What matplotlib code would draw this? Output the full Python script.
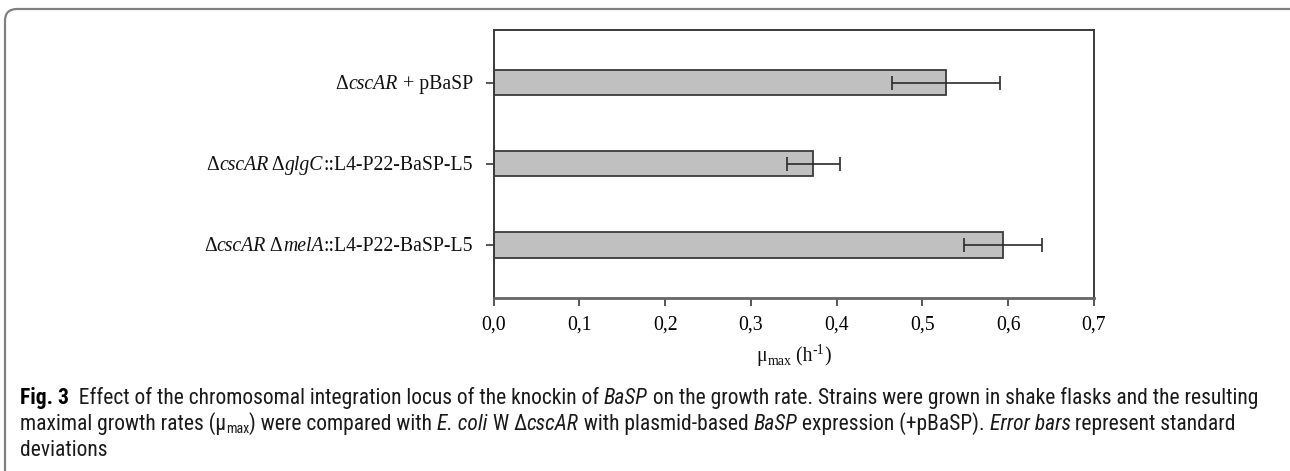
import matplotlib
matplotlib.use("Agg")
import matplotlib.pyplot as plt
from matplotlib.patches import FancyBboxPatch
from matplotlib.transforms import IdentityTransform
from matplotlib import font_manager

# ---------------- data ----------------
strains = ["cscAR + pBaSP", "cscAR glgC", "cscAR melA"]
mu_max = [0.527, 0.373, 0.594]
mu_sd = [0.063, 0.031, 0.045]
x_ticks = [0.0, 0.1, 0.2, 0.3, 0.4, 0.5, 0.6, 0.7]
x_ticklabels = ["0,0", "0,1", "0,2", "0,3", "0,4", "0,5", "0,6", "0,7"]

# label runs (text, italic?) for each strain
label_runs = [
    [("Δ", False), ("cscAR", True), (" + pBaSP", False)],
    [("Δ", False), ("cscAR", True), (" Δ", False), ("glgC", True), ("::L4-P22-BaSP-L5", False)],
    [("Δ", False), ("cscAR", True), (" Δ", False), ("melA", True), ("::L4-P22-BaSP-L5", False)],
]

W, H = 1290, 471
DPI = 100
fig = plt.figure(figsize=(W / DPI, H / DPI), dpi=DPI)
fig.patch.set_facecolor("white")

SERIF = ["Liberation Serif", "DejaVu Serif"]
avail = {f.name for f in font_manager.fontManager.ttflist}
cap_family = None
for cand in ["Liberation Sans Narrow", "Roboto Condensed", "Open Sans Condensed",
             "DejaVu Sans Condensed", "Noto Sans Condensed"]:
    if cand in avail:
        cap_family = cand
        break
CAP = [cap_family, "DejaVu Sans"] if cap_family else ["Liberation Sans", "DejaVu Sans"]

# ---------------- axes ----------------
ax_l, ax_r, ax_t, ax_b = 493.5, 1094, 30, 297.7
ax = fig.add_axes([ax_l / W, 1 - ax_b / H, (ax_r - ax_l) / W, (ax_b - ax_t) / H])

ypos = list(range(len(strains)))
ax.barh(ypos, mu_max, height=0.31, color="#c0c0c0", edgecolor="#3a3a3a",
        linewidth=1.3, zorder=2)
ax.errorbar(mu_max, ypos, xerr=mu_sd, fmt="none", ecolor="#2a2a2a",
            elinewidth=1.2, capsize=4.8, capthick=1.2, zorder=3)
ax.set_ylim(2.65, -0.65)
ax.set_xlim(0, 0.7)
ax.set_xticks(x_ticks)
ax.set_xticklabels(x_ticklabels, fontfamily=SERIF, fontsize=14.2)
ax.set_yticks(ypos)
ax.set_yticklabels([""] * len(ypos))
ax.tick_params(axis="x", direction="out", length=6, width=1.2, color="#3a3a3a", pad=7)
ax.tick_params(axis="y", direction="out", length=6, width=1.2, color="#3a3a3a")
for s in ax.spines.values():
    s.set_color("#3a3a3a")
    s.set_linewidth(1.4)
ax.spines["bottom"].set_color("#666666")
ax.spines["bottom"].set_linewidth(2)

fig.canvas.draw()
renderer = fig.canvas.get_renderer()


def text_width(s, **kw):
    t = fig.text(0, 0, "x" + s + "x", **kw)
    t2 = fig.text(0, 0, "xx", **kw)
    w = t.get_window_extent(renderer).width - t2.get_window_extent(renderer).width
    t.remove()
    t2.remove()
    return w


def runs_width(runs):
    return sum(text_width(s, **kw) for s, kw, dy in runs)


def place_runs(x, y_base, runs, ha="left"):
    """runs: list of (text, kwargs, dy_px). x, y_base in pixels from top-left."""
    widths = [text_width(s, **kw) for s, kw, dy in runs]
    total = sum(widths)
    if ha == "right":
        x = x - total
    elif ha == "center":
        x = x - total / 2
    cx = x
    for (s, kw, dy), w in zip(runs, widths):
        fig.text(cx / W, 1 - (y_base - dy) / H, s, va="baseline", ha="left", **kw)
        cx += w
    return total


# y tick labels
lab_kw = dict(fontfamily=SERIF, fontsize=14.2, color="#111111")
for yi, runs in zip(ypos, label_runs):
    ypix = ax.transData.transform((0, yi))[1]
    ytop = H - ypix
    rr = [(s, dict(lab_kw, fontstyle="italic" if it else "normal"), 0) for s, it in runs]
    place_runs(473, ytop + 6, rr, ha="right")

# x label: mu_max (h^-1)
place_runs((ax_l + ax_r) / 2, 361, [
    ("μ", dict(lab_kw), 0),
    ("max", dict(lab_kw, fontsize=10), -4),
    (" (h", dict(lab_kw), 0),
    ("-1", dict(lab_kw, fontsize=10), 7),
    (")", dict(lab_kw), 0),
], ha="center")


# ---------------- caption ----------------
def caption_lines(cs):
    n = dict(fontfamily=CAP, fontsize=cs, color="#1a1a1a")
    it = dict(n, fontstyle="italic")
    bf = dict(n, fontweight="bold", color="#000000")
    sub = dict(n, fontsize=cs * 0.65)
    l1 = [
        ("Fig. 3", bf, 0),
        ("  Effect of the chromosomal integration locus of the knockin of ", n, 0),
        ("BaSP", it, 0),
        (" on the growth rate. Strains were grown in shake flasks and the resulting", n, 0),
    ]
    l2 = [
        ("maximal growth rates (μ", n, 0),
        ("max", sub, -3),
        (") were compared with ", n, 0),
        ("E. coli", it, 0),
        (" W Δ", n, 0),
        ("cscAR", it, 0),
        (" with plasmid-based ", n, 0),
        ("BaSP", it, 0),
        (" expression (+pBaSP). ", n, 0),
        ("Error bars", it, 0),
        (" represent standard", n, 0),
    ]
    l3 = [("deviations", n, 0)]
    return l1, l2, l3


cs0 = 12.5
w0 = runs_width(caption_lines(cs0)[0])
cs = cs0 * 1250.0 / w0
l1, l2, l3 = caption_lines(cs)
place_runs(20, 404, l1)
place_runs(20, 430, l2)
place_runs(20, 456, l3)

# ---------------- frame ----------------
frame = FancyBboxPatch((5, -200), 1500, (H - 9) + 200,
                       boxstyle="round,pad=0,rounding_size=12",
                       transform=IdentityTransform(), fill=False,
                       edgecolor="#808080", linewidth=1.6)
fig.add_artist(frame)

fig.savefig("out.png", dpi=DPI)
